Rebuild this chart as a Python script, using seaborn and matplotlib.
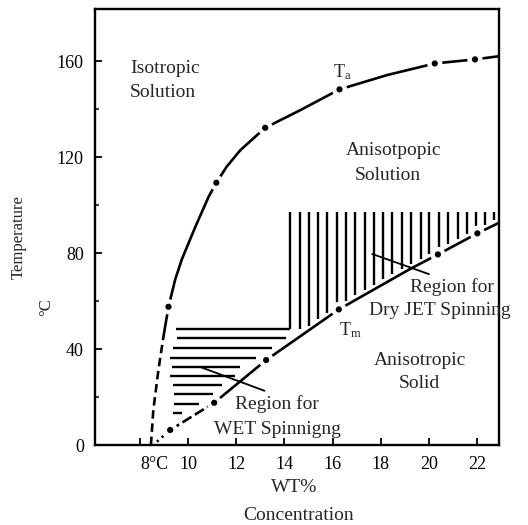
import numpy as np
import pandas as pd
import matplotlib
matplotlib.use("Agg")
import matplotlib.pyplot as plt
import seaborn as sns

# ---- data ----
# Ta curve (isotropic / anisotropic solution boundary)
ta_x = [8.45, 8.55, 8.76, 8.97, 9.18, 9.46, 9.74, 10.3, 10.85, 11.17, 11.6, 12.17,
        13.2, 14.67, 16.29, 18.28, 20.25, 21.92, 22.9]
ta_T = [0, 14.6, 31.2, 45.1, 57.6, 69.0, 77.5, 91.0, 103.5, 109.3, 116.0, 122.9,
        132.2, 139.6, 148.2, 154.2, 159.0, 160.7, 162.0]
ta_dot_x = [9.18, 11.17, 13.2, 16.29, 20.25, 21.92]
ta_dot_T = [57.6, 109.3, 132.2, 148.2, 159.0, 160.7]

# Tm curve (anisotropic solution / solid boundary)
tm_x = [8.7, 9.25, 11.08, 13.24, 16.26, 19.25, 20.38, 22.02, 22.9]
tm_T = [1.4, 6.25, 17.6, 35.4, 56.5, 73.5, 79.4, 88.2, 92.5]
tm_dot_x = [9.25, 11.08, 13.24, 16.26, 20.38, 22.02]
tm_dot_T = [6.25, 17.6, 35.4, 56.5, 79.4, 88.2]

# WET spinning region (horizontal hatch lines)
wet_T = [48.3, 44.4, 40.3, 36.4, 32.6, 28.75, 24.9, 21.1, 17.1, 13.2]
wet_x0 = [9.5, 9.53, 9.36, 9.25, 9.32, 9.25, 9.35, 9.39, 9.39, 9.36]
wet_x1 = [14.22, 14.07, 13.49, 12.8, 12.17, 11.96, 11.4, 11.05, 10.43, 9.74]

# Dry JET spinning region (vertical hatch lines)
jet_x = [14.22, 14.64, 15.01, 15.40, 15.78, 16.17, 16.55, 16.93, 17.33, 17.72, 18.11,
         18.49, 18.88, 19.26, 19.67, 20.03, 20.43, 20.80, 21.20, 21.58, 21.96,
         22.35, 22.72]
jet_top = 97.0
jet_floor = 48.3

# leader lines
wet_lead_x = [10.53, 13.17]
wet_lead_T = [32.4, 22.6]
jet_lead_x = [17.65, 20.01]
jet_lead_T = [79.6, 71.2]

xticks = [8, 10, 12, 14, 16, 18, 20, 22]
xticklabels = ["8°C", "10", "12", "14", "16", "18", "20", "22"]
yticks = [0, 40, 80, 120, 160]
yminor = [20, 60, 100, 140]

# ---- style ----
sns.set_theme(style="ticks")
plt.rcParams["font.family"] = ["Liberation Serif", "DejaVu Serif"]
plt.rcParams["mathtext.fontset"] = "custom"
plt.rcParams["mathtext.rm"] = "Liberation Serif"
plt.rcParams["mathtext.it"] = "Liberation Serif:italic"

W, H = 528, 525
fig = plt.figure(figsize=(W / 100, H / 100), dpi=100)
ax = fig.add_axes([95 / W, 1 - 445 / H, (499 - 95) / W, (445 - 9) / H])
ax.set_xlim(6.125, 22.92)
ax.set_ylim(0, 181.7)

k = "black"
lw = 1.9

# Ta curve: dashed lower part, solid upper part
sns.lineplot(x=ta_x[:4], y=ta_T[:4], ax=ax, color=k, lw=lw, sort=False,
             estimator=None, linestyle=(0, (3.2, 1.8)), zorder=3)
sns.lineplot(x=ta_x[3:], y=ta_T[3:], ax=ax, color=k, lw=lw, sort=False,
             estimator=None, zorder=3)

# Tm curve: dotted start, dashed, then solid
sns.lineplot(x=tm_x[:2], y=tm_T[:2], ax=ax, color=k, lw=lw, sort=False,
             estimator=None, linestyle=(0, (0.8, 1.6)), zorder=3)
sns.lineplot(x=tm_x[1:3], y=tm_T[1:3], ax=ax, color=k, lw=lw, sort=False,
             estimator=None, linestyle=(0, (4, 1.5)), zorder=3)
sns.lineplot(x=tm_x[2:], y=tm_T[2:], ax=ax, color=k, lw=lw, sort=False,
             estimator=None, zorder=3)

# dots with white halo (gaps in the line around each dot)
dots = pd.DataFrame({"x": ta_dot_x + tm_dot_x, "T": ta_dot_T + tm_dot_T})
sns.scatterplot(data=dots, x="x", y="T", ax=ax, s=120, color="white",
                edgecolor="none", zorder=4)
sns.scatterplot(data=dots, x="x", y="T", ax=ax, s=20, color=k,
                edgecolor="none", zorder=5)

# hatch regions
ax.hlines(wet_T, wet_x0, wet_x1, color=k, lw=1.7, zorder=2)
jet_bottom = np.maximum(np.interp(jet_x, tm_x, tm_T) + 2.0, jet_floor)
ax.vlines(jet_x, jet_bottom, jet_top, color=k, lw=1.7, zorder=2)

# leader lines
ax.plot(wet_lead_x, wet_lead_T, color=k, lw=1.3, zorder=6)
ax.plot(jet_lead_x, jet_lead_T, color=k, lw=1.3, zorder=6)

# texts
fs = 14
ax.text(7.58, 157.1, "Isotropic", fontsize=fs, ha="left", va="center")
ax.text(7.58, 146.7, "Solution", fontsize=fs, ha="left", va="center")
ax.text(16.4, 155.4, r"T$_{\mathrm{a}}$", fontsize=fs - 1, ha="center", va="center")
ax.text(18.54, 122.9, "Anisotpopic", fontsize=fs, ha="center", va="center")
ax.text(18.31, 112.2, "Solution", fontsize=fs, ha="center", va="center")
ax.text(16.75, 48.0, r"T$_{\mathrm{m}}$", fontsize=fs - 1, ha="center", va="center")
ax.text(19.63, 35.4, "Anisotropic", fontsize=fs, ha="center", va="center")
ax.text(19.6, 25.8, "Solid", fontsize=fs, ha="center", va="center")
ax.text(20.96, 65.8, "Region for", fontsize=fs, ha="center", va="center")
ax.text(17.5, 56.0, "Dry JET Spinning", fontsize=fs, ha="left", va="center",
        clip_on=False)
ax.text(13.69, 17.1, "Region for", fontsize=fs, ha="center", va="center")
ax.text(13.69, 6.6, "WET Spinnigng", fontsize=fs, ha="center", va="center")

# axes, ticks
ax.set_xticks(xticks)
ax.set_xticklabels(xticklabels)
ax.get_xticklabels()[0].set_horizontalalignment("left")
ax.set_yticks(yticks)
ax.set_yticks(yminor, minor=True)
ax.tick_params(axis="both", which="major", direction="in", length=5, width=1.3,
               labelsize=13, pad=8, color=k, labelcolor=k)
ax.tick_params(axis="y", which="minor", direction="in", length=3, width=1.1,
               color=k)
ax.set_xlabel("")
ax.set_ylabel("")
for s in ax.spines.values():
    s.set_visible(True)
    s.set_linewidth(1.7)
    s.set_color(k)
ax.grid(False)

fig.text(19 / W, 1 - 237 / H, "Temperature", rotation=90, fontsize=12,
         ha="center", va="center")
fig.text(46 / W, 1 - 307 / H, "°C", rotation=90, fontsize=12,
         ha="center", va="center")
fig.text(294 / W, 1 - 488 / H, "WT%", fontsize=14, ha="center", va="center")
fig.text(299 / W, 1 - 515 / H, "Concentration", fontsize=14, ha="center",
         va="center")

fig.savefig("out.png", dpi=100, facecolor="white")
